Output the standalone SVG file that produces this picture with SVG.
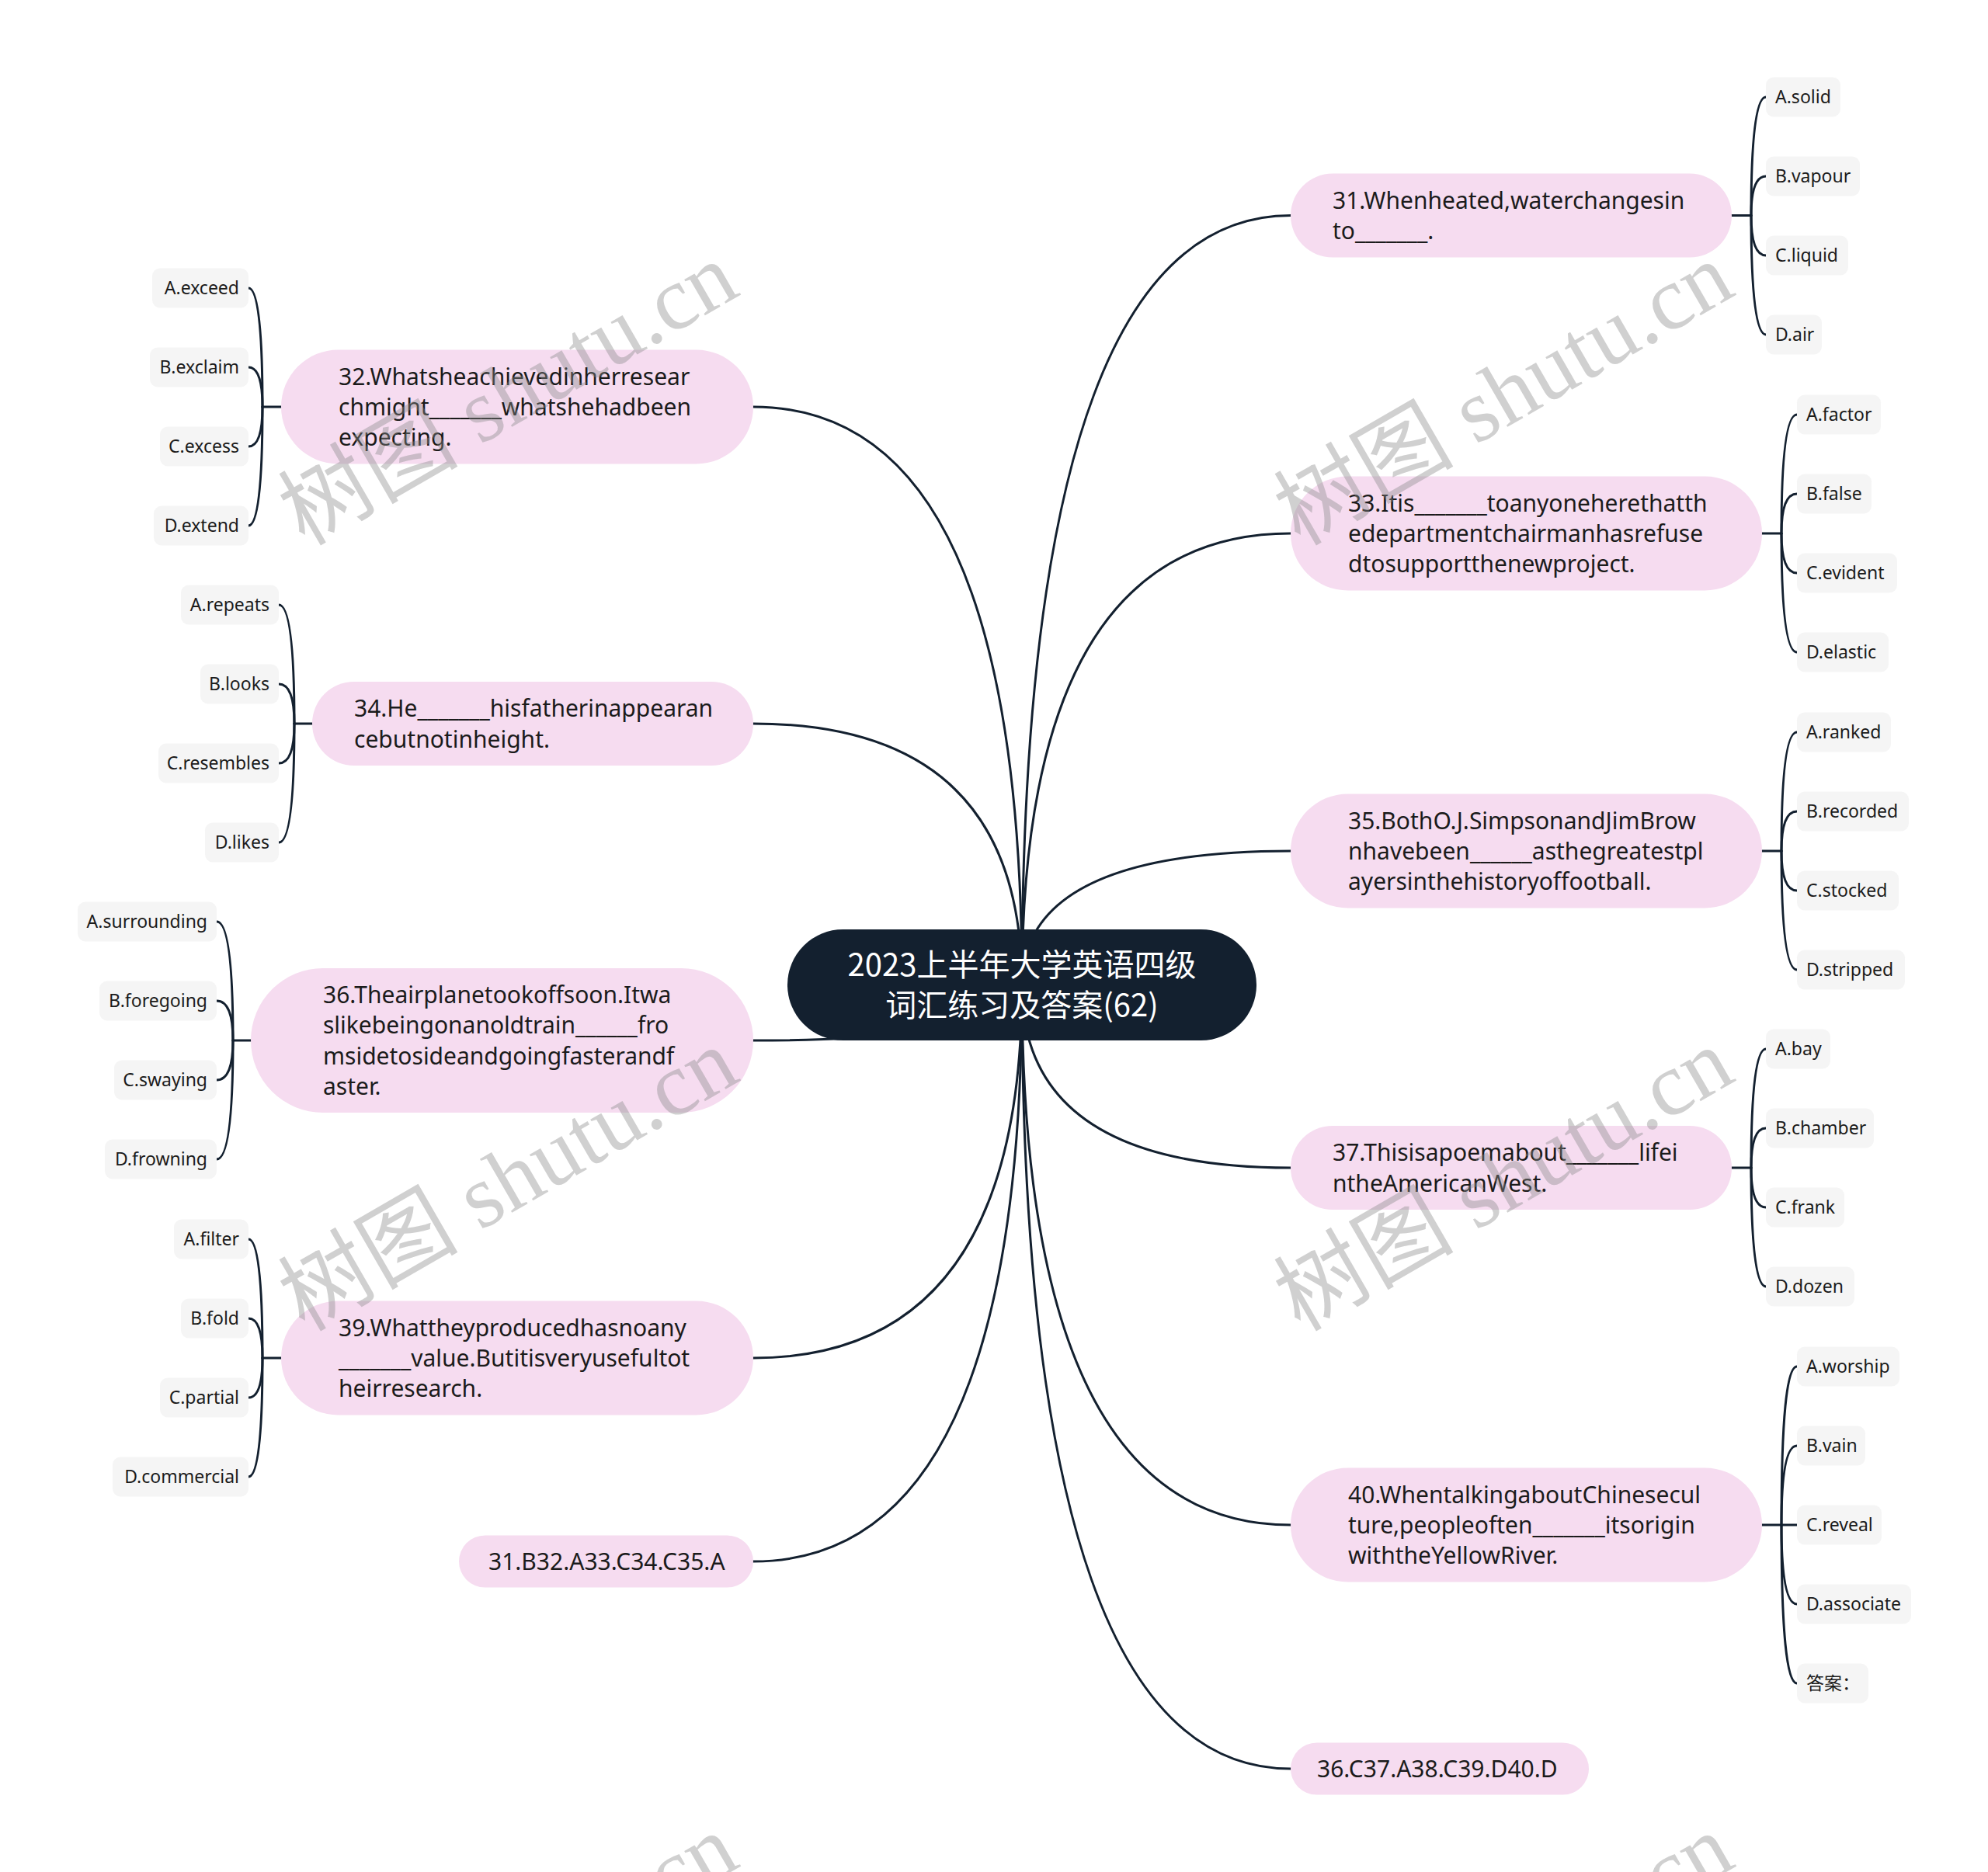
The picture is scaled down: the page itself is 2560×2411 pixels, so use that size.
<svg xmlns="http://www.w3.org/2000/svg" width="2560" height="2411" viewBox="0 0 2560 2411">
<style>
.bg{fill:#ffffff}
.main{fill:#13202f}
.mt{fill:#ffffff;font-family:"Noto Sans CJK SC","Noto Sans",sans-serif;font-size:40px;text-anchor:middle}
.br{fill:#f6dcf0}
.bt{fill:#1b1b1b;font-family:"Noto Sans","Noto Sans CJK SC",sans-serif;font-size:30px}
.lf{fill:#f5f5f5}
.lt{fill:#1b1b1b;font-family:"Noto Sans","Noto Sans CJK SC",sans-serif;font-size:23px}
.le{text-anchor:end}
.cn path{fill:none;stroke:#13202f;stroke-width:3;stroke-linecap:round}
.wm{fill:#8a8a8a;fill-opacity:0.4;font-family:"Liberation Serif","Noto Sans CJK SC",serif;font-size:116px}
</style>
<rect class="bg" x="0" y="0" width="2560" height="2411"/>
<g id="connectors" class="cn">
<path d="M1316 1269 Q1316 277.6 1662 277.6"/>
<path d="M1316 1269 Q1316 687 1662 687"/>
<path d="M1316 1269 Q1316 1096 1662 1096"/>
<path d="M1316 1269 Q1316 1504 1662 1504"/>
<path d="M1316 1269 Q1316 1964 1662 1964"/>
<path d="M1316 1269 Q1316 2278 1662 2278"/>
<path d="M1316 1269 Q1316 524 970 524"/>
<path d="M1316 1269 Q1316 932 970 932"/>
<path d="M1316 1269 Q1316 1340 970 1340"/>
<path d="M1316 1269 Q1316 1749 970 1749"/>
<path d="M1316 1269 Q1316 2011 970 2011"/>
<path d="M2230 277.6 H2255"/>
<path d="M2255 277.6 Q2255 125 2274 125"/>
<path d="M2255 277.6 Q2255 227 2274 227"/>
<path d="M2255 277.6 Q2255 329 2274 329"/>
<path d="M2255 277.6 Q2255 431 2274 431"/>
<path d="M2269 687 H2294"/>
<path d="M2294 687 Q2294 534 2314 534"/>
<path d="M2294 687 Q2294 636 2314 636"/>
<path d="M2294 687 Q2294 738 2314 738"/>
<path d="M2294 687 Q2294 840 2314 840"/>
<path d="M2269 1096 H2294"/>
<path d="M2294 1096 Q2294 943 2314 943"/>
<path d="M2294 1096 Q2294 1045 2314 1045"/>
<path d="M2294 1096 Q2294 1147 2314 1147"/>
<path d="M2294 1096 Q2294 1249 2314 1249"/>
<path d="M2230 1504 H2255"/>
<path d="M2255 1504 Q2255 1351 2274 1351"/>
<path d="M2255 1504 Q2255 1453 2274 1453"/>
<path d="M2255 1504 Q2255 1555 2274 1555"/>
<path d="M2255 1504 Q2255 1657 2274 1657"/>
<path d="M2269 1964 H2314"/>
<path d="M2294 1964 Q2294 1760 2314 1760"/>
<path d="M2294 1964 Q2294 1862 2314 1862"/>
<path d="M2294 1964 Q2294 2066 2314 2066"/>
<path d="M2294 1964 Q2294 2168 2314 2168"/>
<path d="M362 524 H338"/>
<path d="M338 524 Q338 371 320 371"/>
<path d="M338 524 Q338 473 320 473"/>
<path d="M338 524 Q338 575 320 575"/>
<path d="M338 524 Q338 677 320 677"/>
<path d="M402 932 H379"/>
<path d="M379 932 Q379 779 359 779"/>
<path d="M379 932 Q379 881 359 881"/>
<path d="M379 932 Q379 983 359 983"/>
<path d="M379 932 Q379 1085 359 1085"/>
<path d="M323 1340 H300"/>
<path d="M300 1340 Q300 1187 279 1187"/>
<path d="M300 1340 Q300 1289 279 1289"/>
<path d="M300 1340 Q300 1391 279 1391"/>
<path d="M300 1340 Q300 1493 279 1493"/>
<path d="M362 1749 H338"/>
<path d="M338 1749 Q338 1596 320 1596"/>
<path d="M338 1749 Q338 1698 320 1698"/>
<path d="M338 1749 Q338 1800 320 1800"/>
<path d="M338 1749 Q338 1902 320 1902"/>
</g>
<g id="root">
<rect class="main" x="1014" y="1197" width="604" height="143" rx="71.5"/>
<text class="mt" x="1316" y="1257">2023上半年大学英语四级</text>
<text class="mt" x="1316" y="1309">词汇练习及答案(62)</text>
</g>
<g id="q31">
<rect class="br" x="1662" y="223.6" width="568" height="108" rx="54"/>
<text class="bt" x="1716" y="269">31.Whenheated,waterchangesin</text>
<text class="bt" x="1716" y="308">to_______.</text>
</g>
<g id="q31-leaves">
<rect class="lf" x="2274" y="99.5" width="96" height="51" rx="10"/><text class="lt" x="2286" y="133">A.solid</text>
<rect class="lf" x="2274" y="201.5" width="121" height="51" rx="10"/><text class="lt" x="2286" y="235">B.vapour</text>
<rect class="lf" x="2274" y="303.5" width="106" height="51" rx="10"/><text class="lt" x="2286" y="337">C.liquid</text>
<rect class="lf" x="2274" y="405.5" width="72" height="51" rx="10"/><text class="lt" x="2286" y="439">D.air</text>
</g>
<g id="q32">
<rect class="br" x="362" y="450.5" width="608" height="147" rx="73.5"/>
<text class="bt" x="436" y="496">32.Whatsheachievedinherresear</text>
<text class="bt" x="436" y="535">chmight_______whatshehadbeen</text>
<text class="bt" x="436" y="574">expecting.</text>
</g>
<g id="q32-leaves">
<rect class="lf" x="196" y="345.5" width="124" height="51" rx="10"/><text class="lt le" x="308" y="379">A.exceed</text>
<rect class="lf" x="193" y="447.5" width="127" height="51" rx="10"/><text class="lt le" x="308" y="481">B.exclaim</text>
<rect class="lf" x="206" y="549.5" width="114" height="51" rx="10"/><text class="lt le" x="308" y="583">C.excess</text>
<rect class="lf" x="198" y="651.5" width="122" height="51" rx="10"/><text class="lt le" x="308" y="685">D.extend</text>
</g>
<g id="q33">
<rect class="br" x="1662" y="613.5" width="607" height="147" rx="73.5"/>
<text class="bt" x="1736" y="659">33.Itis_______toanyoneherethatth</text>
<text class="bt" x="1736" y="698">edepartmentchairmanhasrefuse</text>
<text class="bt" x="1736" y="737">dtosupportthenewproject.</text>
</g>
<g id="q33-leaves">
<rect class="lf" x="2314" y="508.5" width="108" height="51" rx="10"/><text class="lt" x="2326" y="542">A.factor</text>
<rect class="lf" x="2314" y="610.5" width="96" height="51" rx="10"/><text class="lt" x="2326" y="644">B.false</text>
<rect class="lf" x="2314" y="712.5" width="129" height="51" rx="10"/><text class="lt" x="2326" y="746">C.evident</text>
<rect class="lf" x="2314" y="814.5" width="118" height="51" rx="10"/><text class="lt" x="2326" y="848">D.elastic</text>
</g>
<g id="q34">
<rect class="br" x="402" y="878" width="568" height="108" rx="54"/>
<text class="bt" x="456" y="923">34.He_______hisfatherinappearan</text>
<text class="bt" x="456" y="963">cebutnotinheight.</text>
</g>
<g id="q34-leaves">
<rect class="lf" x="233" y="753.5" width="126" height="51" rx="10"/><text class="lt le" x="347" y="787">A.repeats</text>
<rect class="lf" x="258" y="855.5" width="101" height="51" rx="10"/><text class="lt le" x="347" y="889">B.looks</text>
<rect class="lf" x="204" y="957.5" width="155" height="51" rx="10"/><text class="lt le" x="347" y="991">C.resembles</text>
<rect class="lf" x="264" y="1059.5" width="95" height="51" rx="10"/><text class="lt le" x="347" y="1093">D.likes</text>
</g>
<g id="q35">
<rect class="br" x="1662" y="1022.5" width="607" height="147" rx="73.5"/>
<text class="bt" x="1736" y="1068">35.BothO.J.SimpsonandJimBrow</text>
<text class="bt" x="1736" y="1107">nhavebeen______asthegreatestpl</text>
<text class="bt" x="1736" y="1146">ayersinthehistoryoffootball.</text>
</g>
<g id="q35-leaves">
<rect class="lf" x="2314" y="917.5" width="121" height="51" rx="10"/><text class="lt" x="2326" y="951">A.ranked</text>
<rect class="lf" x="2314" y="1019.5" width="144" height="51" rx="10"/><text class="lt" x="2326" y="1053">B.recorded</text>
<rect class="lf" x="2314" y="1121.5" width="131" height="51" rx="10"/><text class="lt" x="2326" y="1155">C.stocked</text>
<rect class="lf" x="2314" y="1223.5" width="139" height="51" rx="10"/><text class="lt" x="2326" y="1257">D.stripped</text>
</g>
<g id="q36">
<rect class="br" x="323" y="1247" width="647" height="186" rx="93"/>
<text class="bt" x="416" y="1292">36.Theairplanetookoffsoon.Itwa</text>
<text class="bt" x="416" y="1331">slikebeingonanoldtrain______fro</text>
<text class="bt" x="416" y="1371">msidetosideandgoingfasterandf</text>
<text class="bt" x="416" y="1410">aster.</text>
</g>
<g id="q36-leaves">
<rect class="lf" x="100" y="1161.5" width="179" height="51" rx="10"/><text class="lt le" x="267" y="1195">A.surrounding</text>
<rect class="lf" x="128" y="1263.5" width="151" height="51" rx="10"/><text class="lt le" x="267" y="1297">B.foregoing</text>
<rect class="lf" x="147" y="1365.5" width="132" height="51" rx="10"/><text class="lt le" x="267" y="1399">C.swaying</text>
<rect class="lf" x="135" y="1467.5" width="144" height="51" rx="10"/><text class="lt le" x="267" y="1501">D.frowning</text>
</g>
<g id="q37">
<rect class="br" x="1662" y="1450" width="568" height="108" rx="54"/>
<text class="bt" x="1716" y="1495">37.Thisisapoemabout_______lifei</text>
<text class="bt" x="1716" y="1535">ntheAmericanWest.</text>
</g>
<g id="q37-leaves">
<rect class="lf" x="2274" y="1325.5" width="83" height="51" rx="10"/><text class="lt" x="2286" y="1359">A.bay</text>
<rect class="lf" x="2274" y="1427.5" width="139" height="51" rx="10"/><text class="lt" x="2286" y="1461">B.chamber</text>
<rect class="lf" x="2274" y="1529.5" width="101" height="51" rx="10"/><text class="lt" x="2286" y="1563">C.frank</text>
<rect class="lf" x="2274" y="1631.5" width="114" height="51" rx="10"/><text class="lt" x="2286" y="1665">D.dozen</text>
</g>
<g id="q39">
<rect class="br" x="362" y="1675.5" width="608" height="147" rx="73.5"/>
<text class="bt" x="436" y="1721">39.Whattheyproducedhasnoany</text>
<text class="bt" x="436" y="1760">_______value.Butitisveryusefultot</text>
<text class="bt" x="436" y="1799">heirresearch.</text>
</g>
<g id="q39-leaves">
<rect class="lf" x="224" y="1570.5" width="96" height="51" rx="10"/><text class="lt le" x="308" y="1604">A.filter</text>
<rect class="lf" x="233" y="1672.5" width="87" height="51" rx="10"/><text class="lt le" x="308" y="1706">B.fold</text>
<rect class="lf" x="206" y="1774.5" width="114" height="51" rx="10"/><text class="lt le" x="308" y="1808">C.partial</text>
<rect class="lf" x="145" y="1876.5" width="175" height="51" rx="10"/><text class="lt le" x="308" y="1910">D.commercial</text>
</g>
<g id="q40">
<rect class="br" x="1662" y="1890.5" width="607" height="147" rx="73.5"/>
<text class="bt" x="1736" y="1936">40.WhentalkingaboutChinesecul</text>
<text class="bt" x="1736" y="1975">ture,peopleoften_______itsorigin</text>
<text class="bt" x="1736" y="2014">withtheYellowRiver.</text>
</g>
<g id="q40-leaves">
<rect class="lf" x="2314" y="1734.5" width="132" height="51" rx="10"/><text class="lt" x="2326" y="1768">A.worship</text>
<rect class="lf" x="2314" y="1836.5" width="88" height="51" rx="10"/><text class="lt" x="2326" y="1870">B.vain</text>
<rect class="lf" x="2314" y="1938.5" width="109" height="51" rx="10"/><text class="lt" x="2326" y="1972">C.reveal</text>
<rect class="lf" x="2314" y="2040.5" width="147" height="51" rx="10"/><text class="lt" x="2326" y="2074">D.associate</text>
<rect class="lf" x="2314" y="2142.5" width="92" height="51" rx="10"/><text class="lt" x="2326" y="2176">答案：</text>
</g>
<g id="answers1">
<rect class="br" x="591" y="1977.5" width="379" height="67" rx="33.5"/>
<text class="bt" x="629" y="2022">31.B32.A33.C34.C35.A</text>
</g>
<g id="answers2">
<rect class="br" x="1662" y="2244.5" width="384" height="67" rx="33.5"/>
<text class="bt" x="1696" y="2289">36.C37.A38.C39.D40.D</text>
</g>
<g id="watermarks">
<text class="wm" transform="translate(392 704) rotate(-30)">树图 shutu.cn</text>
<text class="wm" transform="translate(1674 704) rotate(-30)">树图 shutu.cn</text>
<text class="wm" transform="translate(392 1716) rotate(-30)">树图 shutu.cn</text>
<text class="wm" transform="translate(1674 1716) rotate(-30)">树图 shutu.cn</text>
<text class="wm" transform="translate(392 2728) rotate(-30)">树图 shutu.cn</text>
<text class="wm" transform="translate(1674 2728) rotate(-30)">树图 shutu.cn</text>
</g>
</svg>
